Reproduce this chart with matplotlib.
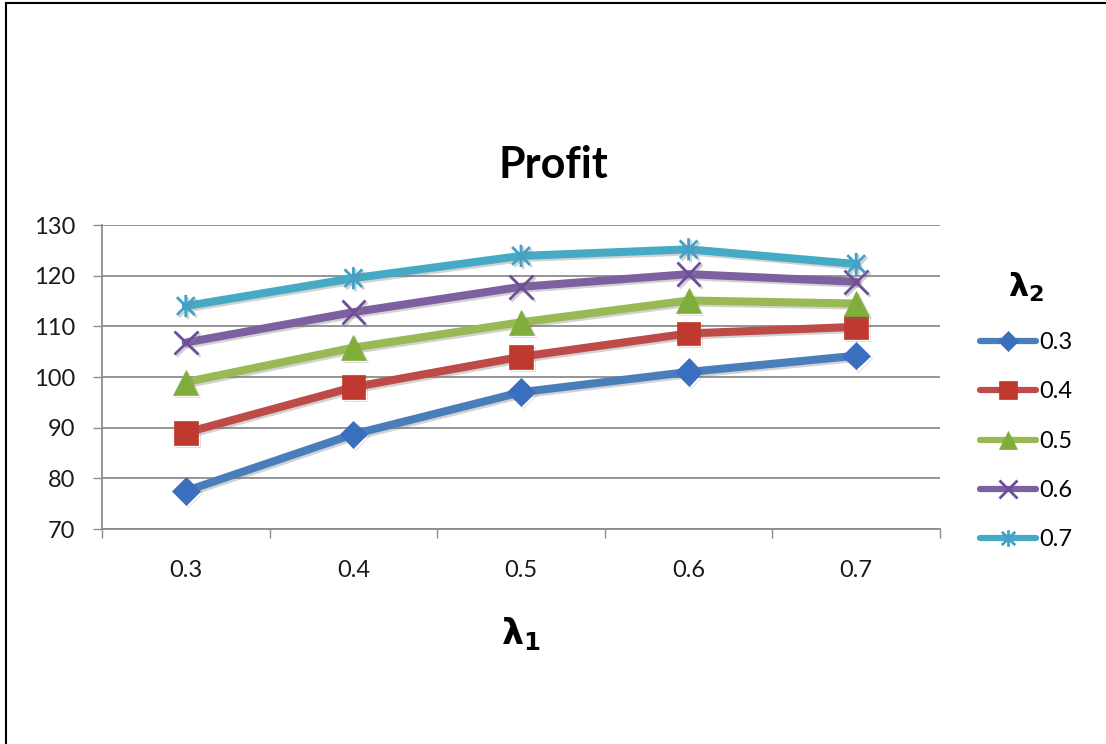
import matplotlib
matplotlib.use("Agg")
import matplotlib.pyplot as plt
from matplotlib.path import Path
from matplotlib.lines import Line2D
import matplotlib.patheffects as pe

# λ1 values along the horizontal axis
lambda1 = ["0.3", "0.4", "0.5", "0.6", "0.7"]

# Profit for each λ2 series
profit_l2_03 = [77.5, 88.7, 97.0, 101.0, 104.2]
profit_l2_04 = [89.0, 98.0, 104.0, 108.6, 109.9]
profit_l2_05 = [99.0, 105.8, 110.8, 115.1, 114.5]
profit_l2_06 = [106.8, 112.8, 117.8, 120.3, 118.8]
profit_l2_07 = [114.0, 119.5, 123.9, 125.2, 122.3]

series_labels = ["0.3", "0.4", "0.5", "0.6", "0.7"]
y_ticks = [70, 80, 90, 100, 110, 120, 130]

plt.rcParams["font.family"] = ["Lato", "DejaVu Sans"]

# asterisk marker: an X with a vertical stroke through it
M, L = Path.MOVETO, Path.LINETO
star_marker = Path(
    [(-1, -1), (1, 1), (-1, 1), (1, -1), (0, -1.25), (0, 1.25)],
    [M, L, M, L, M, L],
)

line_colors = ["#4A7EBB", "#BE4B48", "#98B954", "#7D60A0", "#46AAC5"]
marker_colors = ["#3A6FC0", "#C0392E", "#7FAF3A", "#6E4D9A", "#3FA3C9"]
markers = ["D", "s", "^", "x", star_marker]
marker_sizes = [14, 17, 18, 17, 16]

fig = plt.figure(figsize=(11.06, 7.44), dpi=100)
ax = fig.add_axes([102 / 1106, (744 - 529) / 744, (940 - 102) / 1106, (529 - 225) / 744])

xs = list(range(len(lambda1)))
all_series = [profit_l2_03, profit_l2_04, profit_l2_05, profit_l2_06, profit_l2_07]
shadow = [pe.SimpleLineShadow(offset=(1.5, -1.5), shadow_color="gray", alpha=0.35), pe.Normal()]
for vals, lab, lc, mc, mk, ms in zip(all_series, series_labels, line_colors,
                                     marker_colors, markers, marker_sizes):
    unfilled = mk in ("x",) or isinstance(mk, Path)
    ax.plot(xs, vals, color=lc, lw=5.8, solid_capstyle="round", solid_joinstyle="round",
            marker=mk, markersize=ms,
            markerfacecolor=mc, markeredgecolor=mc,
            markeredgewidth=2.0 if unfilled else 0.5,
            label=lab, zorder=3, path_effects=shadow)

ax.set_xlim(-0.5, len(lambda1) - 0.5)
ax.set_ylim(70, 130)
ax.set_yticks(y_ticks)
ax.set_xticks(xs)
ax.set_xticklabels(lambda1)
ax.set_xticks([i - 0.5 for i in range(len(lambda1) + 1)], minor=True)

grid_c = "#8C8C8C"
ax.grid(axis="y", color=grid_c, lw=1.3, zorder=0)
ax.set_axisbelow(True)
for s in ("top", "right"):
    ax.spines[s].set_visible(False)
for s in ("left", "bottom"):
    ax.spines[s].set_color(grid_c)
    ax.spines[s].set_linewidth(1.3)

ax.tick_params(axis="y", which="major", direction="out", length=6.5, width=1.0,
               color=grid_c, pad=13, labelsize=17, labelcolor="#1a1a1a")
ax.tick_params(axis="x", which="major", length=0, pad=22, labelsize=17, labelcolor="#1a1a1a")
ax.tick_params(axis="x", which="minor", direction="out", length=6.5, width=1.0, color=grid_c)

# chart title centred on the whole page
fig.text(0.5, 1 - 165 / 744, "Profit", fontsize=31, fontweight="bold",
         ha="center", va="center")
ax.set_xlabel(r"$\mathbf{\lambda_1}$", fontsize=25, labelpad=25)

leg = ax.legend(title=r"$\mathbf{\lambda_2}$", loc="center left",
                bbox_to_anchor=(1.022, 0.39), frameon=False, fontsize=17,
                title_fontsize=23, handlelength=2.4, handletextpad=0.12,
                labelspacing=1.2, markerscale=0.75)
for h in leg.legend_handles:
    h.set_linewidth(4.5)
    h.set_path_effects([])

# page border along the top and left edges
fig.add_artist(Line2D([6 / 1106, 1], [1 - 3 / 744, 1 - 3 / 744], color="black", lw=1.5,
                      transform=fig.transFigure))
fig.add_artist(Line2D([6 / 1106, 6 / 1106], [0, 1 - 3 / 744], color="black", lw=1.5,
                      transform=fig.transFigure))

fig.savefig("out.png", dpi=100, facecolor="white")
